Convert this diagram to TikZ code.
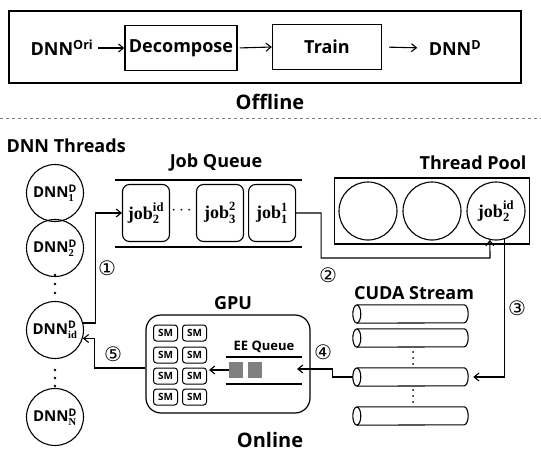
\documentclass[tikz,border=0pt]{standalone}
\usepackage{amsmath}
\usepackage[no-math]{fontspec}
\setmainfont{Open Sans}
\newfontfamily\circfont{DejaVu Sans}
\newfontfamily\jobfont{Liberation Serif}
\newcommand{\serb}[1]{\text{\jobfont\bfseries #1}}
\newcommand{\joblbl}[2]{$\serb{job}^{\serb{#1}}_{\serb{#2}}$}
\usetikzlibrary{positioning, arrows.meta, calc}

\begin{document}
\begin{tikzpicture}[
    x=1pt, y=-1pt,
    stagebox/.style={rectangle, draw, line width=1.3pt, minimum height=45pt, align=center, font=\fontsize{18}{20}\selectfont\bfseries},
    title/.style={font=\fontsize{18}{20}\selectfont\bfseries},
    bigtitle/.style={font=\fontsize{20}{22}\selectfont\bfseries},
    thread/.style={circle, draw, line width=1.1pt, minimum size=57pt, inner sep=0pt, font=\fontsize{15}{16}\selectfont\bfseries},
    job/.style={rectangle, rounded corners=7pt, draw, line width=1.1pt, minimum width=47pt, minimum height=57pt, inner sep=1pt, font=\fontsize{18}{19}\selectfont},
    worker/.style={circle, draw, line width=1.1pt, minimum size=58pt, inner sep=0pt, font=\fontsize{18}{19}\selectfont},
    sm/.style={rectangle, rounded corners=3pt, draw, line width=1pt, minimum width=24pt, minimum height=16pt, inner sep=0pt, font=\fontsize{10}{10}\selectfont\bfseries},
    stream/.style={rectangle, minimum width=107pt, minimum height=18pt, inner sep=0pt},
    eeslot/.style={rectangle, fill=gray, minimum width=14pt, minimum height=16pt, inner sep=0pt},
    arrow/.style={-{Straight Barb[length=5pt, width=8pt]}, line width=1.1pt},
    numlabel/.style={font=\circfont\fontsize{20}{20}\selectfont}
]
\useasboundingbox (0,0) rectangle (541,452);

% Offline stage
\node[rectangle, draw, line width=1.5pt, minimum width=512pt, minimum height=72pt] (offline) at (265,47) {};
\node[font=\fontsize{18}{20}\selectfont\bfseries] (dnnori) at (62,48) {DNN$^{\text{Ori}}$};
\node[stagebox, minimum width=112pt] (decomp) at (181,48) {Decompose};
\node[stagebox, minimum width=109pt] (train) at (327,47) {Train};
\node[font=\fontsize{18}{20}\selectfont\bfseries] (dnnd) at (455,48) {DNN$^{\text{D}}$};
\node[bigtitle] (offlbl) at (270,102) {Offline};

\draw[arrow, shorten <=1pt] (dnnori.east) -- (decomp.west);
\draw[arrow, shorten <=2pt] (decomp.east) -- (train.west);
\draw[arrow, shorten <=7pt, shorten >=8pt] (train.east) -- (dnnd.west);

\draw[dashed, gray, line width=0.8pt] (0,118) -- (541,118);

% DNN threads
\node[title, anchor=west] (thrlbl) at (3,146) {DNN Threads};
\node[thread] (dnn1) at (55,193) {DNN$^{\text{D}}_{\serb{1}}$};
\node[thread] (dnn2) at (55,248) {DNN$^{\text{D}}_{\serb{2}}$};
\node[thread] (dnnid) at (55,330) {DNN$^{\text{D}}_{\serb{id}}$};
\node[thread] (dnnn) at (55,417) {DNN$^{\text{D}}_{\serb{N}}$};
\foreach \y in {275,284,293,370,378,386}
    \fill (55,\y) circle (1.3pt);

% Job queue
\node[title] (jqlbl) at (216,163) {Job Queue};
\draw[line width=1.2pt] (115,180) -- (302,180);
\draw[line width=1.2pt] (115,247) -- (302,247);
\node[job] (jb2id) at (146,213) {\joblbl{id}{2}};
\node[job] (jb32) at (220,213) {\joblbl{2}{3}};
\node[job, right=4pt of jb32] (jb11) {\joblbl{1}{1}};
\node[font=\fontsize{17}{18}\selectfont] (jdots) at (183,211) {$\cdots$};

% Thread pool
\node[title, anchor=east] (tplbl) at (530,163) {Thread Pool};
\node[rectangle, draw, line width=1.2pt, minimum width=195pt, minimum height=66pt] (pool) at (432,211) {};
\node[worker] (tc1) at (368,211) {};
\node[worker] (tc2) at (432,211) {};
\node[worker] (tc3) at (496,211) {\joblbl{id}{2}};

% CUDA streams
\node[title] (cslbl) at (414,293) {CUDA Stream};
\foreach \i/\y in {1/314,2/338,3/377,4/416} {
    \node[stream] (cs\i) at (410.5,\y) {};
    \draw[line width=1.1pt] (cs\i.north west) -- (cs\i.north east) arc (90:-90:4pt and 9pt) -- (cs\i.south west);
    \draw[line width=1.1pt] (cs\i.west) ellipse (4pt and 9pt);
}
\foreach \y in {352,358,364,390,396,402}
    \fill (413,\y) circle (1pt);

% GPU
\node[title] (gpulbl) at (233,303) {GPU};
\node[rectangle, rounded corners=15pt, draw, line width=1.2pt, minimum width=164pt, minimum height=98pt] (gpu) at (228,364) {};
\foreach \c/\x in {1/165.5,2/194.5}
    \foreach \r/\y in {1/333,2/355,3/376,4/397}
        \node[sm] (sm\r\c) at (\x,\y) {SM};
\node[font=\fontsize{13}{14}\selectfont\bfseries] (eelbl) at (264,347) {EE Queue};
\draw[line width=1.1pt] (226,357) -- (302,357);
\draw[line width=1.1pt] (226,384) -- (302,384);
\node[eeslot] (ee1) at (236,370) {};
\node[eeslot] (ee2) at (255,370) {};
\coordinate (eein) at (297,369);

% Steps
\draw[arrow] (dnnid.14) -- ++(12,0) |- (jb2id.west);
\node[numlabel] (n1) at (107,268) {①};
\draw[arrow] (jb11.east) -- ++(25,0) |- (490,258) -- (tc3.-102);
\node[numlabel] (n2) at (328,275) {②};
\draw[arrow, shorten >=9pt] (tc3.-74) |- (cs3.east);
\node[numlabel] (n3) at (517,308) {③};
\draw[arrow] ([xshift=-4pt]cs3.west) -- ++(-20,0) |- (eein);
\node[numlabel] (n4) at (323,352) {④};
\draw[arrow, shorten >=2pt] (ee1.west) -- (ee1.west -| sm32.east);
\draw[arrow] ([yshift=-4pt]gpu.west) -- ++(-51,0) |- (dnnid.-17);
\node[numlabel] (n5) at (113,354) {⑤};

\node[bigtitle] (onllbl) at (270,440) {Online};

\end{tikzpicture}
\end{document}
